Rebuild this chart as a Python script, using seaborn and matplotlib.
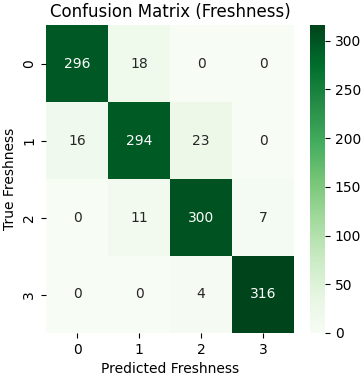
# Confusion matrix heatmap for freshness classes

import numpy as np
import seaborn as sns
import matplotlib.pyplot as plt

labels = ['0', '1', '2', '3']
row_0 = [296, 18, 0, 0]
row_1 = [16, 294, 23, 0]
row_2 = [0, 11, 300, 7]
row_3 = [0, 0, 4, 316]

cm = np.array([row_0, row_1, row_2, row_3])

W, H = 364, 380
fig = plt.figure(figsize=(W / 100, H / 100), dpi=100)
# axes placed in pixel terms to match the reference layout
ax = fig.add_axes([46 / W, (H - 333) / H, 248 / W, 308 / H])
cax = fig.add_axes([310 / W, (H - 333) / H, 15 / W, 308 / H])
sns.heatmap(cm, annot=True, fmt='d', cmap='Greens',
            xticklabels=labels, yticklabels=labels, ax=ax, cbar_ax=cax)
ax.set_title('Confusion Matrix (Freshness)')
ax.set_xlabel('Predicted Freshness')
ax.set_ylabel('True Freshness')
plt.savefig('out.png', dpi=100)
